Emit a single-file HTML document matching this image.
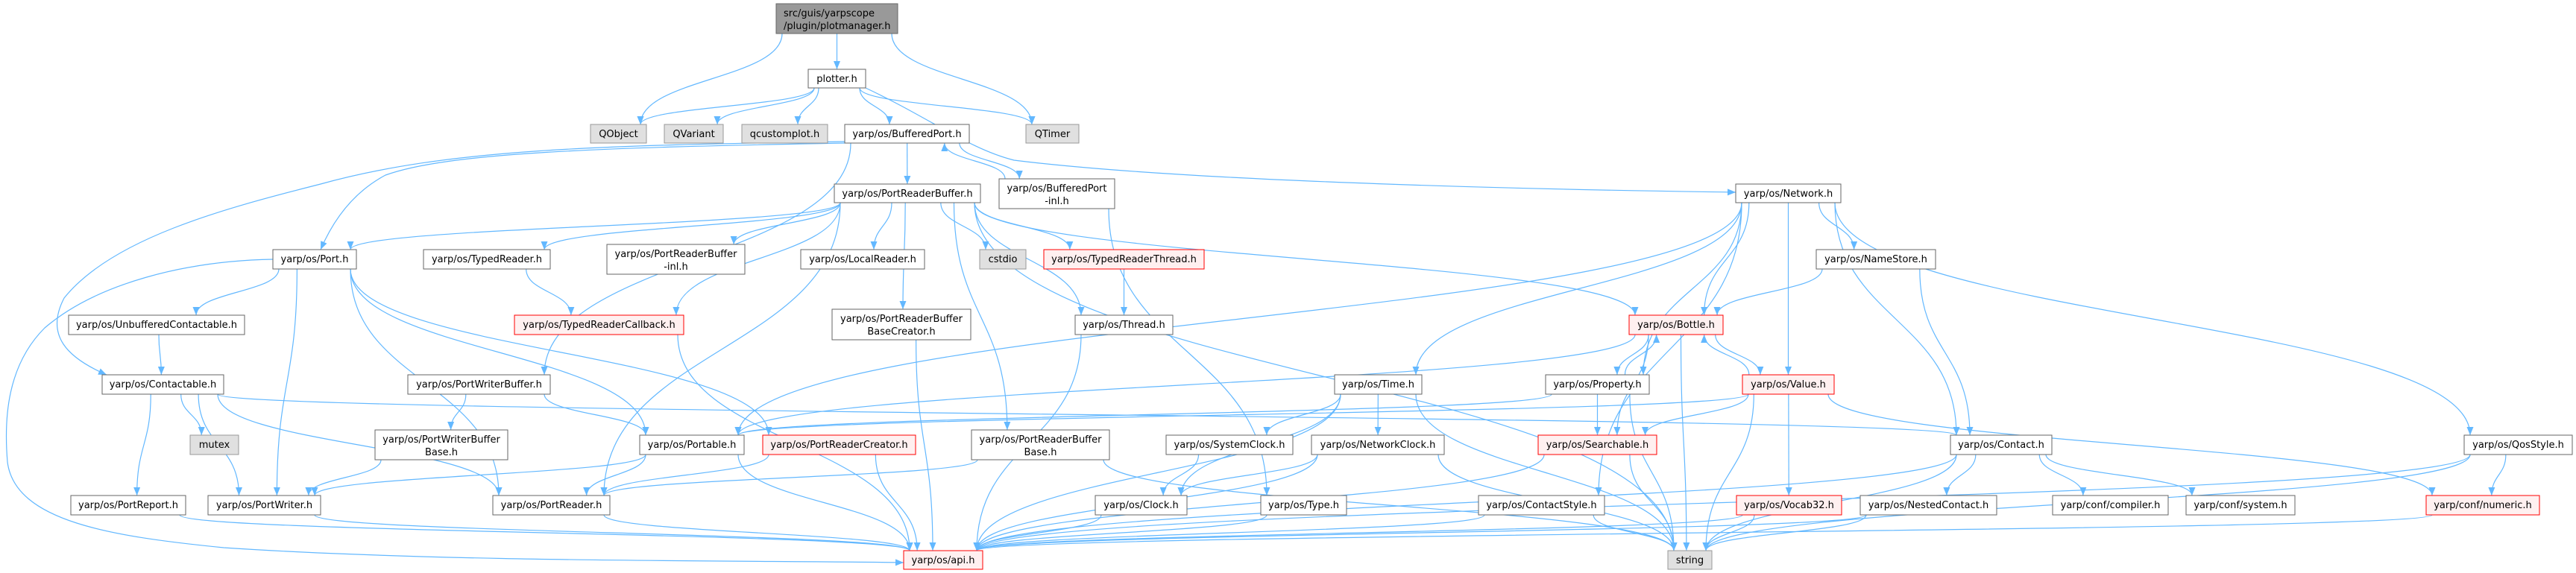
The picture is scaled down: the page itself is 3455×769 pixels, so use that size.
<!DOCTYPE html>
<html><head><meta charset="utf-8">
<style>
html,body{margin:0;padding:0;background:#fff;}
svg{display:block;}
text{font-family:"DejaVu Sans","Liberation Sans",sans-serif;font-size:13px;fill:#000;}
</style></head>
<body>
<svg id="g" width="3455" height="769" viewBox="0 0 3455 769" xmlns="http://www.w3.org/2000/svg">
<defs><marker id="ah" markerUnits="userSpaceOnUse" markerWidth="12" markerHeight="10" refX="11" refY="4.5" orient="auto"><path d="M0,0 L11,4.5 L0,9 z" fill="#63b8ff"/></marker></defs>
<g id="edges" fill="none" stroke="#63b8ff" stroke-width="1.2"></g>
<g id="nodes">
<rect x="1041" y="5" width="163" height="40" fill="#999" stroke="#666"/><text x="1051" y="22">src/guis/yarpscope</text><text x="1051" y="39">/plugin/plotmanager.h</text>
<rect x="1084" y="93" width="77" height="25" fill="#fff" stroke="#666"/><text x="1122.5" y="110" text-anchor="middle">plotter.h</text>
<rect x="792" y="167" width="75" height="25" fill="#e0e0e0" stroke="#999"/><text x="829.5" y="184" text-anchor="middle">QObject</text>
<rect x="891" y="167" width="79" height="25" fill="#e0e0e0" stroke="#999"/><text x="930.5" y="184" text-anchor="middle">QVariant</text>
<rect x="995" y="167" width="115" height="25" fill="#e0e0e0" stroke="#999"/><text x="1052.5" y="184" text-anchor="middle">qcustomplot.h</text>
<rect x="1133" y="167" width="167" height="25" fill="#fff" stroke="#666"/><text x="1216.5" y="184" text-anchor="middle">yarp/os/BufferedPort.h</text>
<rect x="1376" y="167" width="71" height="25" fill="#e0e0e0" stroke="#999"/><text x="1411.5" y="184" text-anchor="middle">QTimer</text>
<rect x="1119" y="247" width="196" height="25" fill="#fff" stroke="#666"/><text x="1217" y="264" text-anchor="middle">yarp/os/PortReaderBuffer.h</text>
<rect x="1340" y="240" width="155" height="40" fill="#fff" stroke="#666"/><text x="1417.5" y="257" text-anchor="middle">yarp/os/BufferedPort</text><text x="1417.5" y="274" text-anchor="middle">-inl.h</text>
<rect x="2328" y="247" width="141" height="25" fill="#fff" stroke="#666"/><text x="2398.5" y="264" text-anchor="middle">yarp/os/Network.h</text>
<rect x="366" y="335" width="112" height="26" fill="#fff" stroke="#666"/><text x="422" y="352" text-anchor="middle">yarp/os/Port.h</text>
<rect x="568" y="335" width="170" height="26" fill="#fff" stroke="#666"/><text x="653" y="352" text-anchor="middle">yarp/os/TypedReader.h</text>
<rect x="814" y="328" width="185" height="40" fill="#fff" stroke="#666"/><text x="906.5" y="345" text-anchor="middle">yarp/os/PortReaderBuffer</text><text x="906.5" y="362" text-anchor="middle">-inl.h</text>
<rect x="1074" y="335" width="166" height="26" fill="#fff" stroke="#666"/><text x="1157" y="352" text-anchor="middle">yarp/os/LocalReader.h</text>
<rect x="1314" y="335" width="62" height="26" fill="#e0e0e0" stroke="#999"/><text x="1345" y="352" text-anchor="middle">cstdio</text>
<rect x="1400" y="335" width="215" height="26" fill="#fff0f0" stroke="#f00"/><text x="1507.5" y="352" text-anchor="middle">yarp/os/TypedReaderThread.h</text>
<rect x="2436" y="335" width="160" height="26" fill="#fff" stroke="#666"/><text x="2516" y="352" text-anchor="middle">yarp/os/NameStore.h</text>
<rect x="92" y="423" width="236" height="26" fill="#fff" stroke="#666"/><text x="210" y="440" text-anchor="middle">yarp/os/UnbufferedContactable.h</text>
<rect x="690" y="423" width="227" height="26" fill="#fff0f0" stroke="#f00"/><text x="803.5" y="440" text-anchor="middle">yarp/os/TypedReaderCallback.h</text>
<rect x="1116" y="415" width="186" height="41" fill="#fff" stroke="#666"/><text x="1209" y="432" text-anchor="middle">yarp/os/PortReaderBuffer</text><text x="1209" y="449" text-anchor="middle">BaseCreator.h</text>
<rect x="1442" y="423" width="131" height="26" fill="#fff" stroke="#666"/><text x="1507.5" y="440" text-anchor="middle">yarp/os/Thread.h</text>
<rect x="2185" y="423" width="126" height="26" fill="#fff0f0" stroke="#f00"/><text x="2248" y="440" text-anchor="middle">yarp/os/Bottle.h</text>
<rect x="137" y="503" width="163" height="26" fill="#fff" stroke="#666"/><text x="218.5" y="520" text-anchor="middle">yarp/os/Contactable.h</text>
<rect x="547" y="503" width="191" height="26" fill="#fff" stroke="#666"/><text x="642.5" y="520" text-anchor="middle">yarp/os/PortWriterBuffer.h</text>
<rect x="1790" y="503" width="117" height="26" fill="#fff" stroke="#666"/><text x="1848.5" y="520" text-anchor="middle">yarp/os/Time.h</text>
<rect x="2073" y="503" width="139" height="26" fill="#fff" stroke="#666"/><text x="2142.5" y="520" text-anchor="middle">yarp/os/Property.h</text>
<rect x="2337" y="503" width="123" height="26" fill="#fff0f0" stroke="#f00"/><text x="2398.5" y="520" text-anchor="middle">yarp/os/Value.h</text>
<rect x="3305" y="584" width="145" height="26" fill="#fff" stroke="#666"/><text x="3377.5" y="601" text-anchor="middle">yarp/os/QosStyle.h</text>
<rect x="255" y="584" width="65" height="26" fill="#e0e0e0" stroke="#999"/><text x="287.5" y="601" text-anchor="middle">mutex</text>
<rect x="503" y="577" width="178" height="40" fill="#fff" stroke="#666"/><text x="592" y="594" text-anchor="middle">yarp/os/PortWriterBuffer</text><text x="592" y="611" text-anchor="middle">Base.h</text>
<rect x="858" y="584" width="140" height="26" fill="#fff" stroke="#666"/><text x="928" y="601" text-anchor="middle">yarp/os/Portable.h</text>
<rect x="1023" y="584" width="205" height="26" fill="#fff0f0" stroke="#f00"/><text x="1125.5" y="601" text-anchor="middle">yarp/os/PortReaderCreator.h</text>
<rect x="1303" y="577" width="185" height="40" fill="#fff" stroke="#666"/><text x="1395.5" y="594" text-anchor="middle">yarp/os/PortReaderBuffer</text><text x="1395.5" y="611" text-anchor="middle">Base.h</text>
<rect x="1564" y="584" width="170" height="26" fill="#fff" stroke="#666"/><text x="1649" y="601" text-anchor="middle">yarp/os/SystemClock.h</text>
<rect x="1759" y="584" width="178" height="26" fill="#fff" stroke="#666"/><text x="1848" y="601" text-anchor="middle">yarp/os/NetworkClock.h</text>
<rect x="2063" y="584" width="159" height="26" fill="#fff0f0" stroke="#f00"/><text x="2142.5" y="601" text-anchor="middle">yarp/os/Searchable.h</text>
<rect x="2616" y="584" width="136" height="26" fill="#fff" stroke="#666"/><text x="2684" y="601" text-anchor="middle">yarp/os/Contact.h</text>
<rect x="95" y="665" width="154" height="26" fill="#fff" stroke="#666"/><text x="172" y="682" text-anchor="middle">yarp/os/PortReport.h</text>
<rect x="279" y="665" width="151" height="26" fill="#fff" stroke="#666"/><text x="354.5" y="682" text-anchor="middle">yarp/os/PortWriter.h</text>
<rect x="661" y="665" width="157" height="26" fill="#fff" stroke="#666"/><text x="739.5" y="682" text-anchor="middle">yarp/os/PortReader.h</text>
<rect x="1469" y="665" width="123" height="26" fill="#fff" stroke="#666"/><text x="1530.5" y="682" text-anchor="middle">yarp/os/Clock.h</text>
<rect x="1691" y="665" width="115" height="26" fill="#fff" stroke="#666"/><text x="1748.5" y="682" text-anchor="middle">yarp/os/Type.h</text>
<rect x="1983" y="665" width="169" height="26" fill="#fff" stroke="#666"/><text x="2067.5" y="682" text-anchor="middle">yarp/os/ContactStyle.h</text>
<rect x="2329" y="665" width="141" height="26" fill="#fff0f0" stroke="#f00"/><text x="2399.5" y="682" text-anchor="middle">yarp/os/Vocab32.h</text>
<rect x="2495" y="665" width="183" height="26" fill="#fff" stroke="#666"/><text x="2586.5" y="682" text-anchor="middle">yarp/os/NestedContact.h</text>
<rect x="2753" y="665" width="155" height="26" fill="#fff" stroke="#666"/><text x="2830.5" y="682" text-anchor="middle">yarp/conf/compiler.h</text>
<rect x="2932" y="665" width="146" height="26" fill="#fff" stroke="#666"/><text x="3005" y="682" text-anchor="middle">yarp/conf/system.h</text>
<rect x="3254" y="665" width="152" height="26" fill="#fff0f0" stroke="#f00"/><text x="3330" y="682" text-anchor="middle">yarp/conf/numeric.h</text>
<rect x="1212" y="739" width="106" height="25" fill="#fff0f0" stroke="#f00"/><text x="1265" y="756" text-anchor="middle">yarp/os/api.h</text>
<rect x="2237" y="739" width="59" height="25" fill="#e0e0e0" stroke="#999"/><text x="2266.5" y="756" text-anchor="middle">string</text>
</g>
</svg>
<script>
var N={main:[1041,1204,5,45],plotter:[1084,1161,93,118],QObject:[792,867,167,192],QVariant:[891,970,167,192],qcp:[995,1110,167,192],BP:[1133,1300,167,192],QTimer:[1376,1447,167,192],PRB:[1119,1315,247,272],BPinl:[1340,1495,240,280],Network:[2328,2469,247,272],Port:[366,478,335,361],TR:[568,738,335,361],PRBinl:[814,999,328,368],LR:[1074,1240,335,361],cstdio:[1314,1376,335,361],TRT:[1400,1615,335,361],NameStore:[2436,2596,335,361],Unbuf:[92,328,423,449],TRC:[690,917,423,449],PRBBC:[1116,1302,415,456],Thread:[1442,1573,423,449],Bottle:[2185,2311,423,449],Contactable:[137,300,503,529],PWB:[547,738,503,529],Time:[1790,1907,503,529],Property:[2073,2212,503,529],Value:[2337,2460,503,529],Qos:[3305,3450,584,610],mutex:[255,320,584,610],PWBB:[503,681,577,617],Portable:[858,998,584,610],PRC:[1023,1228,584,610],PRBB:[1303,1488,577,617],SysClock:[1564,1734,584,610],NetClock:[1759,1937,584,610],Searchable:[2063,2222,584,610],Contact:[2616,2752,584,610],PortReport:[95,249,665,691],PortWriter:[279,430,665,691],PortReader:[661,818,665,691],Clock:[1469,1592,665,691],Type:[1691,1806,665,691],CStyle:[1983,2152,665,691],Vocab:[2329,2470,665,691],Nested:[2495,2678,665,691],compiler:[2753,2908,665,691],system:[2932,3078,665,691],numeric:[3254,3406,665,691],api:[1212,1318,739,764],string:[2237,2296,739,764]};
var E="main QObject,main plotter,main QTimer,plotter QObject,plotter QVariant,plotter qcp,plotter BP,plotter QTimer,BP PRB,BP BPinl,BP PWB,BPinl BP,BPinl Type,PRB Port,PRB TR,PRB PRBinl,PRB LR,PRB cstdio,PRB TRT,PRB TRC,PRB PRBBC,PRB Thread,PRB PortReader,PRB PRBB,PRB Bottle,PRB string,Network Portable,Network Time,Network Property,Network NameStore,Network Value,Network Contact,Network CStyle,Network Qos,Network Bottle,NameStore Bottle,NameStore Contact,Port Unbuf,Port PortWriter,Port PortReader,Port Portable,Port PRC,Unbuf Contactable,Contactable mutex,Contactable PortReport,Contactable PortWriter,Contactable PortReader,Contactable Contact,TR TRC,TRC api,PWB PWBB,PWB Portable,PWBB PortWriter,Portable PortWriter,Portable PortReader,Portable api,PRC PortReader,PRC api,PRBBC api,PRBB PortReader,PRBB string,Thread api,TRT Thread,Time NetClock,Time SysClock,Time Clock,Time api,Time string,SysClock Clock,NetClock Clock,NetClock api,NetClock string,Clock api,Type api,PortWriter api,PortReader api,PortReport api,Bottle Portable,Bottle Property,Bottle Searchable,Bottle Value,Bottle string,Property Bottle,Property Searchable,Property string,Property Portable,Value Bottle,Value Searchable,Value Vocab,Value numeric,Value string,Value Portable,Searchable api,Searchable string,CStyle api,CStyle string,Vocab api,Vocab string,Contact Nested,Contact compiler,Contact system,Contact string,Contact api,Nested api,Nested string,Qos numeric,Qos api,Qos string,numeric api".split(",");
var g=document.getElementById("edges"),ns="http://www.w3.org/2000/svg";
function cl(v,a,b){return Math.max(a,Math.min(b,v));}
function add(d){var p=document.createElementNS(ns,"path");p.setAttribute("d",d);p.setAttribute("marker-end","url(#ah)");g.appendChild(p);}
E.forEach(function(e){var k=e.split(" "),S=N[k[0]],T=N[k[1]];if(!S||!T)return;
var sc=(S[0]+S[1])/2,tc=(T[0]+T[1])/2,sx,sy,tx,ty;
if(T[2]>=S[3]-2){sy=S[3];ty=T[2];}else{sy=S[2];ty=T[3];}
sx=cl(sc+(tc-sc)*0.35,S[0]+8,S[1]-8);tx=cl(tc+(sc-tc)*0.25,T[0]+8,T[1]-8);
var dy=ty-sy;add("M"+sx+","+sy+" C"+sx+","+(sy+dy*0.5)+" "+tx+","+(ty-dy*0.5)+" "+tx+","+ty);});
add("M1133,192 C800,198 600,205 517,235 C470,260 445,300 430,335");
add("M1133,190 C800,195 600,200 430,247 C300,280 150,320 86,400 C60,450 90,480 143,503");
add("M366,348 C250,350 130,380 60,440 C10,490 5,560 10,620 C20,700 150,720 300,735 C600,755 1000,752 1212,755");
add("M1161,118 C1250,160 1300,200 1360,215 C1600,245 2100,255 2328,258");
</script>
</body></html>
